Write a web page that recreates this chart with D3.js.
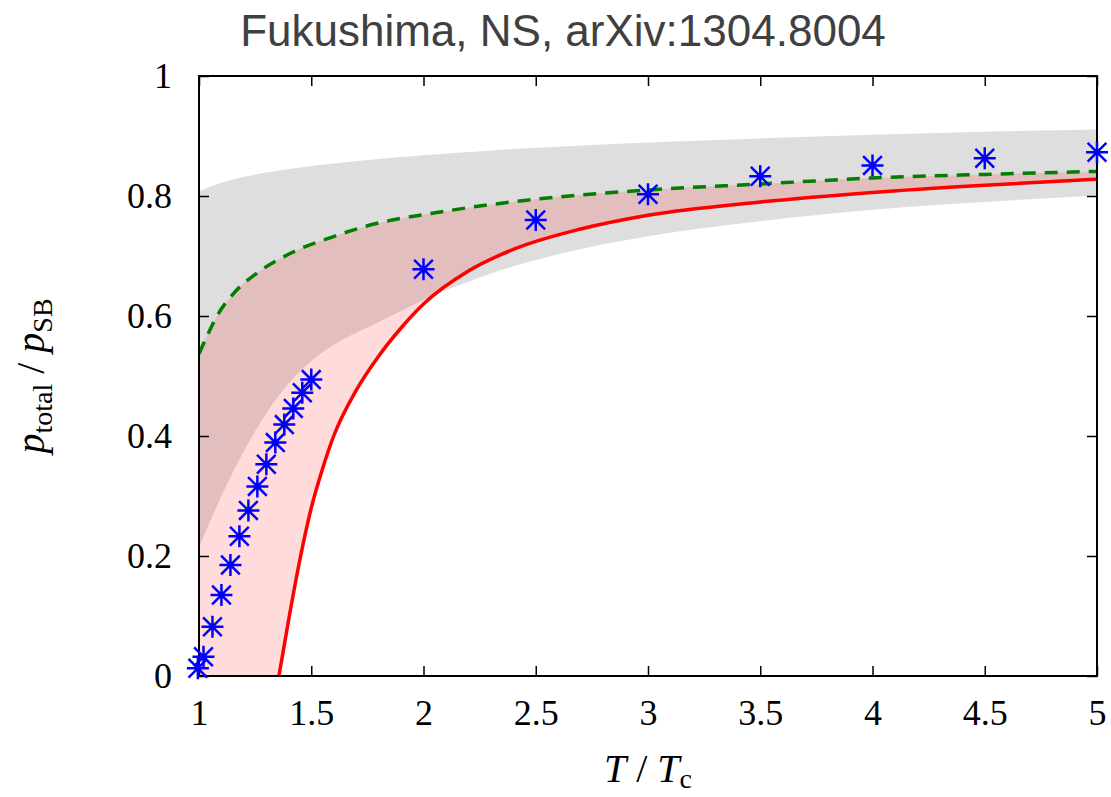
<!DOCTYPE html>
<html>
<head>
<meta charset="utf-8">
<script src="https://cdnjs.cloudflare.com/ajax/libs/d3/7.8.5/d3.min.js"></script>
<style>
  body { margin: 0; background: #fff; }
  .tick text { font-family: "Liberation Serif", "DejaVu Serif", serif; font-size: 36px; fill: #000; }
</style>
</head>
<body>
<div class="chart"></div>
<script>
// lattice data (stars)
var latT = [0.995, 1.02, 1.06, 1.10, 1.14, 1.18, 1.22, 1.26, 1.30, 1.34, 1.38, 1.42, 1.46, 1.50, 2.0, 2.5, 3.0, 3.5, 4.0, 4.5, 5.0];
var latP = [0.013, 0.032, 0.082, 0.135, 0.185, 0.233, 0.276, 0.316, 0.353, 0.389, 0.419, 0.446, 0.472, 0.494, 0.678, 0.760, 0.803, 0.833, 0.851, 0.863, 0.873];

// red solid curve
var redT = [1.356, 1.40, 1.45, 1.50, 1.55, 1.60, 1.70, 1.80, 1.90, 2.0, 2.2, 2.4, 2.7, 3.0, 3.5, 4.0, 4.5, 5.0];
var redP = [0.0, 0.095, 0.195, 0.280, 0.345, 0.400, 0.476, 0.533, 0.580, 0.620, 0.675, 0.711, 0.745, 0.768, 0.790, 0.806, 0.818, 0.828];

// green dashed curve
var greenT = [1.0, 1.04, 1.08, 1.16, 1.26, 1.41, 1.62, 1.71, 2.12, 2.46, 3.0, 3.5, 4.0, 4.5, 5.0];
var greenP = [0.537, 0.570, 0.600, 0.640, 0.672, 0.705, 0.735, 0.746, 0.776, 0.793, 0.810, 0.820, 0.830, 0.836, 0.841];

// gray band
var bandT = [1.0, 1.1, 1.2, 1.3, 1.4, 1.5, 1.6, 1.75, 1.9, 2.0, 2.15, 2.3, 2.6, 3.0, 3.5, 4.0, 4.5, 5.0];
var grayLow = [0.214, 0.300, 0.375, 0.438, 0.488, 0.525, 0.552, 0.581, 0.608, 0.627, 0.650, 0.671, 0.703, 0.733, 0.758, 0.777, 0.790, 0.801];
var grayHigh = [0.808, 0.822, 0.832, 0.839, 0.845, 0.850, 0.854, 0.860, 0.865, 0.868, 0.872, 0.876, 0.882, 0.889, 0.896, 0.902, 0.907, 0.911];

var xTicks = [1, 1.5, 2, 2.5, 3, 3.5, 4, 4.5, 5];
var yTicks = [0, 0.2, 0.4, 0.6, 0.8, 1];

var W = 1111, H = 797;
var margin = { top: 76, right: 14, bottom: 121, left: 199 };
var width = W - margin.left - margin.right;
var height = H - margin.top - margin.bottom;

var x = d3.scaleLinear().domain([1, 5]).range([0, width]);
var y = d3.scaleLinear().domain([0, 1]).range([height, 0]);

var svg = d3.select('.chart').append('svg')
    .attr('width', W)
    .attr('height', H);

var curve = d3.curveMonotoneX;
var line = d3.line()
    .x(function(d) { return x(d[0]); })
    .y(function(d) { return y(d[1]); })
    .curve(curve);

var redPts = redT.map(function(t, i) { return [t, redP[i]]; });
var greenPts = greenT.map(function(t, i) { return [t, greenP[i]]; });

var defs = svg.append('defs');
defs.append('clipPath').attr('id', 'plotclip')
  .append('rect').attr('width', width).attr('height', height);

// region above the red curve (used to cut the pink band)
var aboveRed = defs.append('clipPath').attr('id', 'abovered');
aboveRed.append('path')
    .datum(redPts)
    .attr('d', d3.area()
        .x(function(d) { return x(d[0]); })
        .y0(function(d) { return y(d[1]); })
        .y1(0)
        .curve(curve));
aboveRed.append('rect')
    .attr('x', -5)
    .attr('y', 0)
    .attr('width', x(redT[0]) + 5.5)
    .attr('height', height);

var g = svg.append('g')
    .attr('transform', 'translate(' + margin.left + ',' + margin.top + ')');

var plot = g.append('g').attr('clip-path', 'url(#plotclip)');

// gray band
var area = d3.area()
    .x(function(d, i) { return x(bandT[i]); })
    .y0(function(d, i) { return y(grayLow[i]); })
    .y1(function(d, i) { return y(grayHigh[i]); })
    .curve(curve);

plot.append('path')
    .datum(bandT)
    .attr('d', area)
    .attr('fill', '#dedede');

// pink band between green and red
plot.append('g')
    .attr('clip-path', 'url(#abovered)')
  .append('path')
    .datum(greenPts)
    .attr('d', d3.area()
        .x(function(d) { return x(d[0]); })
        .y0(height)
        .y1(function(d) { return y(d[1]); })
        .curve(curve))
    .attr('fill', '#ff0000')
    .attr('fill-opacity', 0.14);

plot.append('path')
    .datum(redPts)
    .attr('d', line)
    .attr('fill', 'none')
    .attr('stroke', '#ff0000')
    .attr('stroke-width', 3.5);

plot.append('path')
    .datum(greenPts)
    .attr('d', line)
    .attr('fill', 'none')
    .attr('stroke', '#007f00')
    .attr('stroke-width', 3.5)
    .attr('stroke-dasharray', '13,9');

// axes with inward ticks
g.append('g')
    .attr('transform', 'translate(0,' + height + ')')
    .call(d3.axisBottom(x).tickValues(xTicks).tickSize(-10).tickPadding(23).tickFormat(d3.format('')))
    .call(function(s) { s.select('.domain').remove(); });

g.append('g')
    .call(d3.axisTop(x).tickValues(xTicks).tickSize(-10).tickFormat(''))
    .call(function(s) { s.select('.domain').remove(); });

g.append('g')
    .call(d3.axisLeft(y).tickValues(yTicks).tickSize(-10).tickPadding(27).tickFormat(d3.format('')))
    .call(function(s) { s.select('.domain').remove(); });

g.append('g')
    .attr('transform', 'translate(' + width + ',0)')
    .call(d3.axisRight(y).tickValues(yTicks).tickSize(-10).tickFormat(''))
    .call(function(s) { s.select('.domain').remove(); });

g.selectAll('.tick line').attr('stroke', '#000').attr('stroke-width', 1.5);

g.append('rect')
    .attr('width', width)
    .attr('height', height)
    .attr('fill', 'none')
    .attr('stroke', '#000')
    .attr('stroke-width', 2);

// star points
var r = 11;
var starPath = 'M' + (-r) + ',0L' + r + ',0M0,' + (-r) + 'L0,' + r +
    'M' + (-r * 0.85) + ',' + (-r * 0.85) + 'L' + (r * 0.85) + ',' + (r * 0.85) +
    'M' + (-r * 0.85) + ',' + (r * 0.85) + 'L' + (r * 0.85) + ',' + (-r * 0.85);

g.selectAll('.star')
    .data(latT)
    .enter().append('path')
    .attr('class', 'star')
    .attr('transform', function(d, i) { return 'translate(' + x(d) + ',' + y(latP[i]) + ')'; })
    .attr('d', starPath)
    .attr('fill', 'none')
    .attr('stroke', '#0000ff')
    .attr('stroke-width', 2.5);

// title
svg.append('text')
    .attr('x', 563)
    .attr('y', 46)
    .attr('text-anchor', 'middle')
    .style('font-family', '"Liberation Sans", Arial, sans-serif')
    .style('font-size', '44px')
    .attr('fill', '#404040')
    .text('Fukushima, NS, arXiv:1304.8004');

// x label
var xl = svg.append('text')
    .attr('x', margin.left + width / 2)
    .attr('y', 782)
    .attr('text-anchor', 'middle')
    .style('font-family', '"Liberation Serif", serif')
    .style('font-size', '40px');
xl.append('tspan').style('font-style', 'italic').text('T');
xl.append('tspan').text(' / ');
xl.append('tspan').style('font-style', 'italic').text('T');
xl.append('tspan').attr('dy', 6).style('font-size', '28px').text('c');

// y label
var yl = svg.append('text')
    .attr('transform', 'translate(44,' + (margin.top + height / 2) + ') rotate(-90)')
    .attr('text-anchor', 'middle')
    .style('font-family', '"Liberation Serif", serif')
    .style('font-size', '40px');
yl.append('tspan').style('font-style', 'italic').text('p');
yl.append('tspan').attr('dy', 8).style('font-size', '28px').text('total');
yl.append('tspan').attr('dy', -8).text(' / ');
yl.append('tspan').style('font-style', 'italic').text('p');
yl.append('tspan').attr('dy', 8).style('font-size', '28px').text('SB');
</script>
</body>
</html>
